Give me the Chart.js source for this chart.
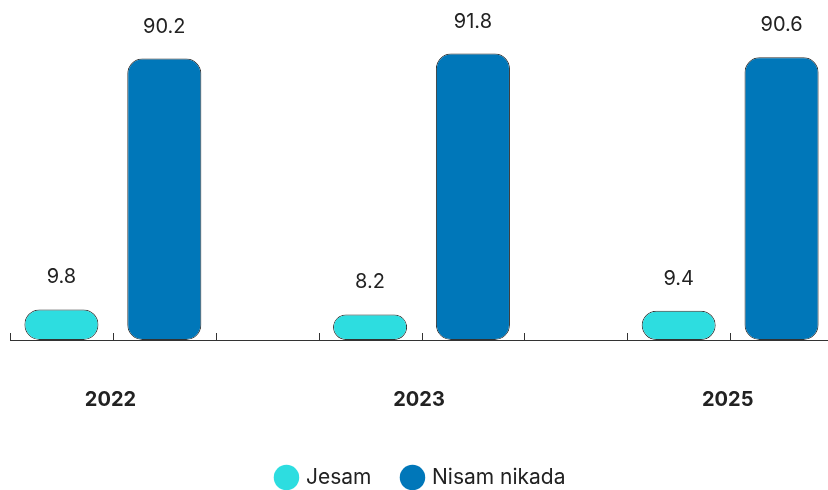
<!DOCTYPE html>
<html>
<head>
<meta charset="utf-8">
<script src="https://cdn.jsdelivr.net/npm/chart.js@4"></script>
<style>
  html, body { margin: 0; padding: 0; background: #fff; overflow: hidden; }
  #wrap { width: 828px; height: 490px; overflow: hidden; }
</style>
</head>
<body>
<div id="wrap"><canvas id="chart" width="856" height="498"></canvas></div>
<script>
const years       = ['2022', '2023', '2025'];
const jesam       = [9.8, 8.2, 9.4];
const nisamNikada = [90.2, 91.8, 90.6];

const JESAM_COLOR = '#2ddde0';
const NISAM_COLOR = '#0077b9';
const INK         = '#222222';
const FONT        = 'Inter';

// every year gets a slot per answer plus an empty slot, no gap after the last one
const slotLabels = [], jesamSlots = [], nisamSlots = [];
years.forEach((y, i) => {
  slotLabels.push(y, '', '');
  jesamSlots.push(jesam[i], null, null);
  nisamSlots.push(null, nisamNikada[i], null);
});
slotLabels.pop(); jesamSlots.pop(); nisamSlots.pop();

/* -------- Plugins -------- */

const valueLabels = {
  id: 'valueLabels',
  afterDatasetsDraw(chart) {
    const ctx = chart.ctx;
    ctx.save();
    ctx.font = `20px ${FONT}`;
    ctx.fillStyle = INK;
    ctx.textAlign = 'center';
    ctx.textBaseline = 'middle';
    chart.data.datasets.forEach((ds, di) => {
      chart.getDatasetMeta(di).data.forEach((bar, i) => {
        const v = ds.data[i];
        if (v == null) return;
        ctx.fillText(v.toFixed(1), bar.x, bar.y - 32);
      });
    });
    ctx.restore();
  },
};

// small tick marks standing up from the axis line at slot boundaries
const innerTicks = {
  id: 'innerTicks',
  afterDraw(chart) {
    const x = chart.scales.x;
    const ctx = chart.ctx;
    const step = x.getPixelForValue(1) - x.getPixelForValue(0);
    ctx.save();
    ctx.strokeStyle = '#333';
    ctx.lineWidth = 1;
    for (let i = 0; i <= slotLabels.length; i++) {
      const px = Math.round(x.getPixelForValue(i) - step / 2) + 0.5;
      ctx.beginPath();
      ctx.moveTo(px, x.top - 7);
      ctx.lineTo(px, x.top);
      ctx.stroke();
    }
    ctx.restore();
  },
};

const barStyle = {
  borderColor: '#333',
  borderWidth: 1,
  borderRadius: 15,
  borderSkipped: false,
  skipNull: true,
  categoryPercentage: 0.72,
  barPercentage: 1,
};

new Chart(document.getElementById('chart').getContext('2d'), {
  type: 'bar',
  data: {
    labels: slotLabels,
    datasets: [
      { label: 'Jesam',        data: jesamSlots, backgroundColor: JESAM_COLOR, ...barStyle },
      { label: 'Nisam nikada', data: nisamSlots, backgroundColor: NISAM_COLOR, ...barStyle },
    ],
  },
  options: {
    responsive: false,
    animation: false,
    layout: { padding: { left: 10, right: 23, top: 28, bottom: 0 } },
    scales: {
      x: {
        grid: { drawOnChartArea: false, drawTicks: false },
        border: { display: true, color: '#333', width: 1 },
        ticks: {
          autoSkip: false,
          maxRotation: 0,
          padding: 48,
          labelOffset: 49,
          color: INK,
          font: { family: FONT, size: 20, weight: 'bold' },
        },
        afterFit(scale) {
          scale.paddingLeft = 0;
          scale.paddingRight = 0;
          scale.height = 95;
        },
      },
      y: { display: false, min: 0, max: 100 },
    },
    plugins: {
      legend: {
        position: 'bottom',
        labels: {
          usePointStyle: true,
          pointStyle: 'circle',
          boxWidth: 18,
          boxHeight: 18,
          padding: 32,
          color: INK,
          font: { family: FONT, size: 21 },
          generateLabels: chart => Chart.defaults.plugins.legend.labels.generateLabels(chart)
            .map(l => ({ ...l, lineWidth: 0, strokeStyle: 'rgba(0,0,0,0)' })),
        },
      },
      tooltip: { enabled: false },
    },
  },
  plugins: [valueLabels, innerTicks],
});
</script>
</body>
</html>
